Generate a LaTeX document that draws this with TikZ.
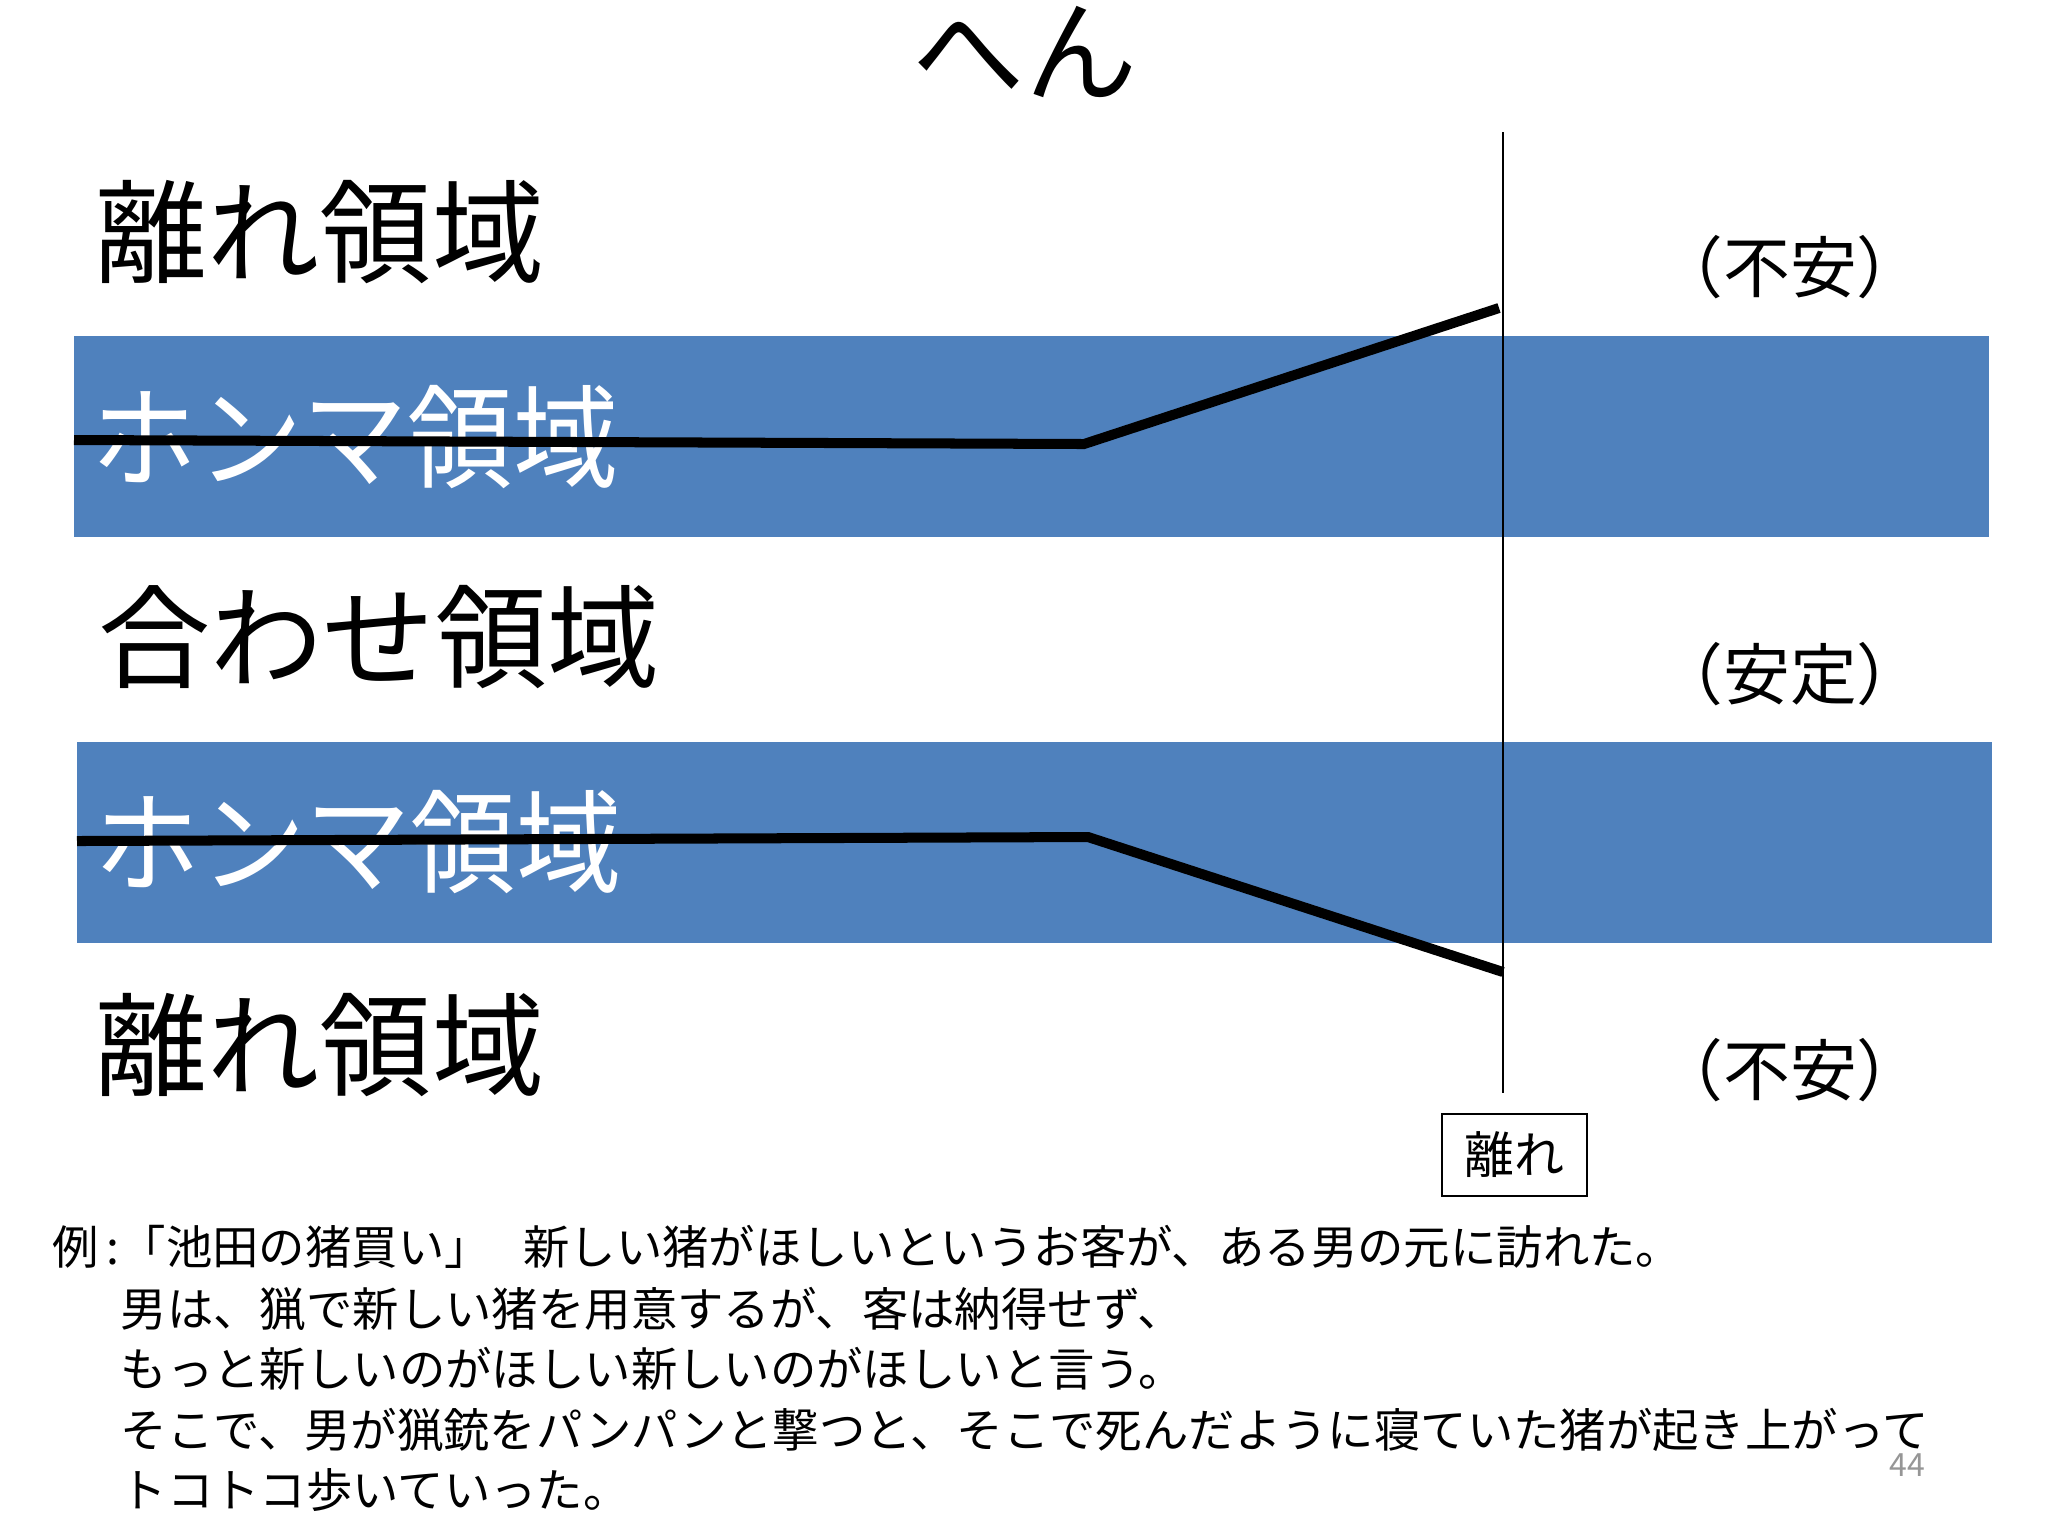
\documentclass[tikz,border=0pt]{standalone}
\usepackage{fontspec}
\newfontfamily\jp{Noto Sans CJK JP}
\newfontfamily\jpnarrow[FakeStretch=0.94]{Noto Sans CJK JP}
\definecolor{bandblue}{RGB}{79,129,189}
\definecolor{pagegray}{RGB}{150,150,150}
\begin{document}
\begin{tikzpicture}[x=0.1mm,y=-0.1mm,
  titletext/.style={font=\jp\fontsize{31.9}{36}\selectfont, inner sep=0},
  big/.style={font=\jp\fontsize{31.9}{36}\selectfont, inner sep=0, anchor=west},
  bignarrow/.style={font=\jpnarrow\fontsize{31.9}{36}\selectfont, inner sep=0, anchor=west, text=white},
  mid/.style={font=\jp\fontsize{19}{22}\selectfont, inner sep=0},
  body/.style={font=\jp\fontsize{13.2}{15}\selectfont, inner sep=0, anchor=west},
  pathline/.style={line width=2.85pt, line join=miter},
  guide/.style={line width=0.45pt},
  labelbox/.style={draw, line width=0.6pt, font=\jp\fontsize{14.2}{16}\selectfont,
    minimum width=14.5mm, minimum height=8.2mm, inner sep=0}]
\useasboundingbox (0,0) rectangle (2048,1536);
\fill[white] (0,0) rectangle (2048,1536);
\node[titletext] (title) at (1025,52) {へん};
\fill[bandblue] (74,336) rectangle (1989,537);
\fill[bandblue] (77,742) rectangle (1992,943);
\node[big] (r1) at (95,232) {離れ領域};
\node[bignarrow] (h1) at (91,437) {ホンマ領域};
\node[big] (aw) at (98,637) {合わせ領域};
\node[bignarrow] (h2) at (94,842) {ホンマ領域};
\node[big] (r2) at (95,1045) {離れ領域};
\coordinate (a0) at (74,440);
\coordinate (a1) at (1084,444);
\coordinate (a2) at (1499,308);
\coordinate (b0) at (77,841);
\coordinate (b1) at (1088,837);
\coordinate (b2) at (1503,972);
\draw[pathline] (a0) -- (a1) -- (a2);
\draw[pathline] (b0) -- (b1) -- (b2);
\coordinate (vtop) at (1503,132);
\coordinate (vbot) at (1503,1093);
\draw[guide] (vtop) -- (vbot);
\node[mid] (s1) at (1790,267) {（不安）};
\node[mid] (s2) at (1790,674) {（安定）};
\node[mid] (s3) at (1790,1070) {（不安）};
\node[labelbox] (box) at (1514.5,1155) {離れ};
\node[body] (l1) at (52,1247) {例\,:「池田の猪買い」\hspace{0.7em}新しい猪がほしいというお客が、ある男の元に訪れた。};
\node[body] (l2) at (120,1309) {男は、猟で新しい猪を用意するが、客は納得せず、};
\node[body] (l3) at (120,1369) {もっと新しいのがほしい新しいのがほしいと言う。};
\node[body] (l4) at (120,1430) {そこで、男が猟銃をパンパンと撃つと、そこで死んだように寝ていた猪が起き上がって};
\node[body] (l5) at (120,1490) {トコトコ歩いていった。};
\node[font=\jp\fontsize{9.1}{10}\selectfont, text=pagegray, inner sep=0] (pg) at (1907,1465) {44};
\end{tikzpicture}
\end{document}
